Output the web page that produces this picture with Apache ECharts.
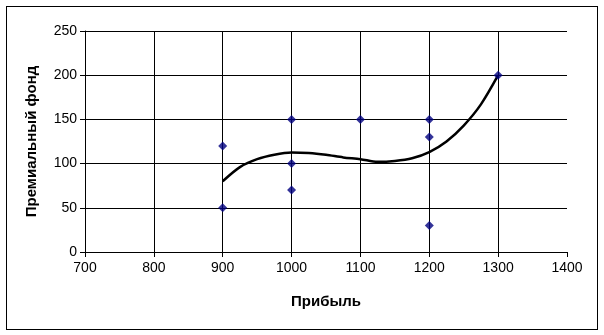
<!DOCTYPE html>
<html>
<head>
<meta charset="utf-8">
<script src="https://cdn.jsdelivr.net/npm/echarts@6/dist/echarts.min.js"></script>
<style>
  html, body { margin: 0; padding: 0; background: #fff; }
  #frame { position: absolute; left: 6px; top: 6px; width: 590px; height: 322px; border: 1px solid #000; }
  #chart { width: 604px; height: 335px; }
</style>
</head>
<body>
<div id="frame"></div>
<div id="chart"></div>
<script>
// исходные точки
const profit = [900, 900, 1000, 1000, 1000, 1100, 1200, 1200, 1200, 1300];
const bonus = [120, 50, 150, 100, 70, 150, 150, 130, 30, 200];

// линия тренда
const trendX = [900, 925, 950, 975, 1000, 1025, 1050, 1075, 1100, 1125, 1150, 1175, 1200, 1225, 1250, 1275, 1300];
const trendY = [80, 96, 105, 110, 112.5, 112, 110, 107, 105, 102, 103, 106, 113, 125, 143, 167, 200];

const chart = echarts.init(document.getElementById('chart'));

const font = 'Liberation Sans, Arial, sans-serif';

chart.setOption({
    animation: false,
    grid: {
        left: 85,
        right: 37,
        top: 31,
        bottom: 83
    },
    xAxis: {
        type: 'value',
        min: 700,
        max: 1400,
        interval: 100,
        name: 'Прибыль',
        nameLocation: 'middle',
        nameGap: 42,
        nameTextStyle: { color: '#000', fontFamily: font, fontSize: 15, fontWeight: 'bold' },
        axisLine: { show: true, lineStyle: { color: '#000', width: 1 } },
        axisTick: { show: true, length: 5, lineStyle: { color: '#000' } },
        axisLabel: { color: '#000', fontFamily: font, fontSize: 14, margin: 9, formatter: v => String(v) },
        splitLine: { show: true, showMaxLine: false, lineStyle: { color: '#000', width: 1 } }
    },
    yAxis: {
        type: 'value',
        min: 0,
        max: 250,
        interval: 50,
        name: 'Премиальный фонд',
        nameLocation: 'middle',
        nameGap: 46,
        nameTextStyle: { color: '#000', fontFamily: font, fontSize: 15, fontWeight: 'bold' },
        axisLine: { show: true, lineStyle: { color: '#000', width: 1 } },
        axisTick: { show: true, length: 5, lineStyle: { color: '#000' } },
        axisLabel: { color: '#000', fontFamily: font, fontSize: 14, margin: 8 },
        splitLine: { show: true, lineStyle: { color: '#000', width: 1 } }
    },
    series: [{
        name: 'тренд',
        type: 'line',
        smooth: 0.3,
        symbol: 'none',
        data: trendX.map((x, i) => [x, trendY[i]]),
        lineStyle: { color: '#000', width: 2.5 },
        z: 2
    }, {
        name: 'данные',
        type: 'scatter',
        symbol: 'diamond',
        symbolSize: 9,
        data: profit.map((x, i) => [x, bonus[i]]),
        itemStyle: { color: '#000080' },
        z: 3
    }]
});
</script>
</body>
</html>
